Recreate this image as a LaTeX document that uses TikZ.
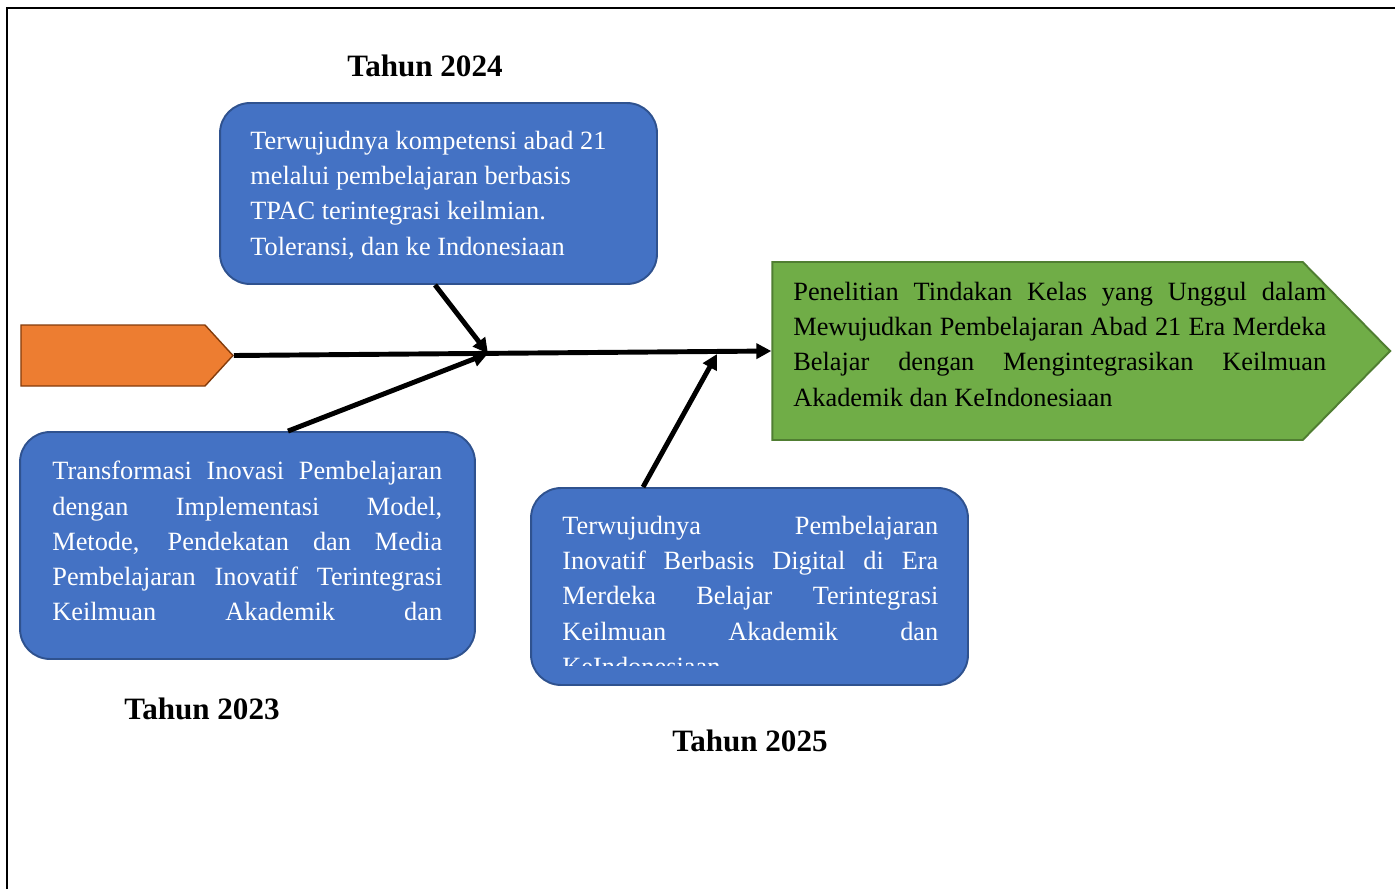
\documentclass[tikz,border=0pt]{standalone}
\usepackage{fontspec}
\setmainfont{Liberation Serif}
\usetikzlibrary{shapes.symbols,arrows.meta}
\definecolor{boxblue}{HTML}{4472C4}
\definecolor{boxedge}{HTML}{2F528F}
\definecolor{startfill}{HTML}{ED7D31}
\definecolor{startedge}{HTML}{843C0C}
\definecolor{goalfill}{HTML}{70AD47}
\definecolor{goaledge}{HTML}{507E32}
\newcommand{\jline}[2]{\makebox[#1][s]{#2}}
\begin{document}
\begin{tikzpicture}[x=0.02cm,y=-0.02cm,
  yearbox/.style={draw=boxedge,fill=boxblue,line width=1.1pt,rounded corners=0.6cm,inner sep=0pt},
  yeartext/.style={anchor=north west,inner sep=0pt,text=white,font=\fontsize{15}{20}\selectfont,align=left},
  yearlabel/.style={font=\fontsize{17.7}{21}\selectfont\bfseries,inner sep=0pt},
  fish/.style={line width=2.8pt,-{Triangle[length=0.3cm,width=0.3cm]}}]
% frame, head and tail of the diagram
\useasboundingbox (0,0) rectangle (1395,889);
\draw[line width=1.2pt] (7,889) -- (7,8) -- (1395,8);
\node[signal,signal to=east,signal pointer angle=95,draw=startedge,fill=startfill,
  line width=0.8pt,minimum width=4.24cm,minimum height=1.22cm,inner sep=0pt] (start) at (113,355.5) {};
\node[signal,signal to=east,signal pointer angle=91,draw=goaledge,fill=goalfill,
  line width=1.1pt,minimum width=12.36cm,minimum height=3.56cm,inner sep=0pt] (goal) at (1037.5,351) {};
\node[anchor=north west,inner sep=0pt,font=\fontsize{15}{20}\selectfont,align=left] (goaltext) at (793,282)
  {\jline{10.66cm}{Penelitian Tindakan Kelas yang Unggul dalam}\\
   \jline{10.66cm}{Mewujudkan Pembelajaran Abad 21 Era Merdeka}\\
   \jline{10.66cm}{Belajar dengan Mengintegrasikan Keilmuan}\\
   Akademik dan KeIndonesiaan};
% year boxes
\node[yearbox,minimum width=8.74cm,minimum height=3.62cm] (b2024) at (438.5,193.5) {};
\node[yeartext] (t2024) at (250,131)
  {Terwujudnya kompetensi abad 21\\
   melalui pembelajaran berbasis\\
   TPAC terintegrasi keilmian.\\
   Toleransi, dan ke Indonesiaan};
\node[yearbox,minimum width=9.1cm,minimum height=4.54cm] (b2023) at (247.5,545.5) {};
\node[yeartext] (t2023) at (52,461)
  {\jline{7.8cm}{Transformasi Inovasi Pembelajaran}\\
   \jline{7.8cm}{dengan Implementasi Model,}\\
   \jline{7.8cm}{Metode, Pendekatan dan Media}\\
   \jline{7.8cm}{Pembelajaran Inovatif Terintegrasi}\\
   \jline{7.8cm}{Keilmuan Akademik dan}};
\node[yearbox,minimum width=8.74cm,minimum height=3.94cm] (b2025) at (749.5,586.5) {};
\begin{scope}
\clip (531,488) rectangle (968,665);
\node[yeartext] (t2025) at (562,516)
  {\jline{7.52cm}{Terwujudnya Pembelajaran}\\
   \jline{7.52cm}{Inovatif Berbasis Digital di Era}\\
   \jline{7.52cm}{Merdeka Belajar Terintegrasi}\\
   \jline{7.52cm}{Keilmuan Akademik dan}\\
   KeIndonesiaan};
\end{scope}
\node[yearlabel] (y2024) at (425,66) {Tahun 2024};
\node[yearlabel] (y2023) at (202,709) {Tahun 2023};
\node[yearlabel] (y2025) at (750,741) {Tahun 2025};
% spine and bones
\coordinate (joint) at (488,353.5);
\coordinate (hit) at (717,354);
\draw[fish] (start.east) -- (goal.west);
\draw[fish] ([xshift=-0.07cm]b2024.south) -- (joint);
\draw[fish] ([xshift=0.81cm]b2023.north) -- (joint);
\draw[fish] ([xshift=-2.13cm]b2025.north) -- (hit);
\end{tikzpicture}
\end{document}
